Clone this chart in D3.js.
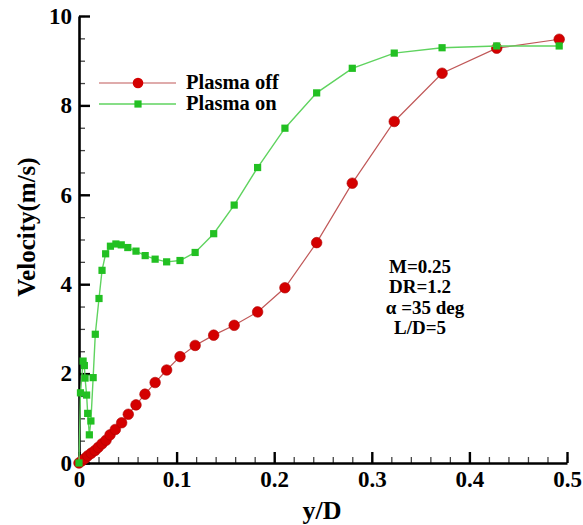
<!DOCTYPE html>
<html>
<head>
<meta charset="utf-8">
<script src="https://cdn.jsdelivr.net/npm/d3@7"></script>
<style>
  body { margin: 0; background: #fff; }
  text { font-family: "Liberation Serif", "Times New Roman", serif; font-weight: bold; }
</style>
</head>
<body>
<svg width="583" height="525"></svg>
<script>
// data (x = y/D, v = velocity m/s)
const offX = [0, 0.003, 0.006, 0.009, 0.0126, 0.0164, 0.0198, 0.0236, 0.0277, 0.0318, 0.0372, 0.0437, 0.0505, 0.0584, 0.0676, 0.078, 0.0898, 0.1035, 0.119, 0.138, 0.159, 0.183, 0.211, 0.2435, 0.280, 0.323, 0.372, 0.428, 0.492];
const offV = [0, 0.05, 0.10, 0.16, 0.22, 0.28, 0.35, 0.43, 0.51, 0.63, 0.75, 0.90, 1.09, 1.30, 1.54, 1.80, 2.08, 2.38, 2.63, 2.86, 3.08, 3.38, 3.92, 4.93, 6.26, 7.64, 8.72, 9.28, 9.48];

const onX = [0, 0.0015, 0.0042, 0.0055, 0.0062, 0.0078, 0.0089, 0.0106, 0.0122, 0.0145, 0.0167, 0.0205, 0.0236, 0.0273, 0.0322, 0.0378, 0.0433, 0.050, 0.0584, 0.0678, 0.078, 0.0898, 0.1035, 0.119, 0.138, 0.159, 0.183, 0.211, 0.2435, 0.280, 0.323, 0.372, 0.428, 0.492];
const onV = [0, 1.57, 2.28, 2.18, 1.90, 1.52, 1.11, 0.63, 0.94, 1.91, 2.88, 3.68, 4.31, 4.68, 4.85, 4.90, 4.88, 4.82, 4.74, 4.64, 4.56, 4.50, 4.53, 4.71, 5.13, 5.77, 6.61, 7.49, 8.28, 8.83, 9.17, 9.29, 9.33, 9.33];

const xTicks = [0, 0.1, 0.2, 0.3, 0.4, 0.5];
const yTicks = [0, 2, 4, 6, 8, 10];
const seriesNames = ["Plasma off", "Plasma on"];
const noteLines = ["M=0.25", "DR=1.2", "\u03b1 =35 deg", "L/D=5"];

const margin = {top: 16, right: 16, bottom: 62, left: 79};
const width = 583 - margin.left - margin.right,
      height = 525 - margin.top - margin.bottom;

const svg = d3.select("svg");
const g = svg.append("g")
    .attr("transform", `translate(${margin.left}, ${margin.top})`);

const x = d3.scaleLinear().domain([0, 0.5]).range([0, width]);
const y = d3.scaleLinear().domain([0, 10]).range([height, 0]);

const offData = offX.map((d, i) => ({x: d, v: offV[i]}));
const onData = onX.map((d, i) => ({x: d, v: onV[i]}));

// minor ticks
g.append("g")
  .attr("transform", `translate(0, ${height})`)
  .call(d3.axisBottom(x).tickValues(d3.range(0, 0.501, 0.02)).tickSize(-6).tickFormat(""))
  .call(a => a.select(".domain").remove())
  .selectAll("line").attr("stroke-width", 1.3).attr("stroke", "#444");
g.append("g")
  .call(d3.axisLeft(y).tickValues(d3.range(0, 10.01, 0.5)).tickSize(-6).tickFormat(""))
  .call(a => a.select(".domain").remove())
  .selectAll("line").attr("stroke-width", 1.3).attr("stroke", "#444");

// major axes
const xAxis = g.append("g")
  .attr("transform", `translate(0, ${height})`)
  .call(d3.axisBottom(x).tickValues(xTicks).tickSize(-11).tickSizeOuter(0).tickPadding(8)
        .tickFormat(d => d === 0 ? "0" : d3.format(".1f")(d)));
const yAxis = g.append("g")
  .call(d3.axisLeft(y).tickValues(yTicks).tickSize(-11).tickSizeOuter(0).tickPadding(7));

[xAxis, yAxis].forEach(a => {
  a.select(".domain").attr("stroke-width", 2.6);
  a.selectAll(".tick line").attr("stroke-width", 2.4);
  a.selectAll("text")
    .attr("font-family", "Liberation Serif, serif")
    .attr("font-weight", "bold")
    .attr("font-size", "23px")
    .attr("fill", "#000");
});

// axis titles
svg.append("text")
  .attr("x", 322)
  .attr("y", 519)
  .attr("font-size", "26px")
  .attr("text-anchor", "middle")
  .text("y/D");

svg.append("text")
  .attr("transform", "translate(35, 227) rotate(-90)")
  .attr("font-size", "25px")
  .attr("text-anchor", "middle")
  .text("Velocity(m/s)");

// lines
const line = d3.line().x(d => x(d.x)).y(d => y(d.v));

g.append("path").datum(offData)
  .attr("fill", "none").attr("stroke", "#c05858").attr("stroke-width", 1.2)
  .attr("d", line);
g.selectAll(".off").data(offData).enter().append("circle")
  .attr("class", "off")
  .attr("cx", d => x(d.x)).attr("cy", d => y(d.v)).attr("r", 5.3)
  .attr("fill", "#d40000").attr("stroke", "#b00000").attr("stroke-width", 0.6);

g.append("path").datum(onData)
  .attr("fill", "none").attr("stroke", "#5fd35f").attr("stroke-width", 1.4)
  .attr("d", line);
g.selectAll(".on").data(onData).enter().append("rect")
  .attr("class", "on")
  .attr("x", d => x(d.x) - 3.6).attr("y", d => y(d.v) - 3.6)
  .attr("width", 7.2).attr("height", 7.2)
  .attr("fill", "#22c022");

// legend
const legend = svg.append("g");
legend.append("line").attr("x1", 99).attr("x2", 176).attr("y1", 83).attr("y2", 83)
  .attr("stroke", "#c05858").attr("stroke-width", 1.2);
legend.append("circle").attr("cx", 138).attr("cy", 83).attr("r", 5.3).attr("fill", "#d40000");
legend.append("line").attr("x1", 99).attr("x2", 176).attr("y1", 104).attr("y2", 104)
  .attr("stroke", "#5fd35f").attr("stroke-width", 1.4);
legend.append("rect").attr("x", 138 - 3.6).attr("y", 104 - 3.6).attr("width", 7.2).attr("height", 7.2)
  .attr("fill", "#22c022");
legend.selectAll(".lab").data(seriesNames).enter().append("text")
  .attr("class", "lab")
  .attr("x", 186)
  .attr("y", (d, i) => 89 + i * 21)
  .attr("font-size", "20.5px")
  .text(d => d);

// annotation
svg.selectAll(".note").data(noteLines).enter().append("text")
  .attr("class", "note")
  .attr("x", (d, i) => i === 2 ? 425 : 420)
  .attr("y", (d, i) => 273 + i * 20.3)
  .attr("font-size", "19px")
  .attr("text-anchor", "middle")
  .text(d => d);
</script>
</body>
</html>
